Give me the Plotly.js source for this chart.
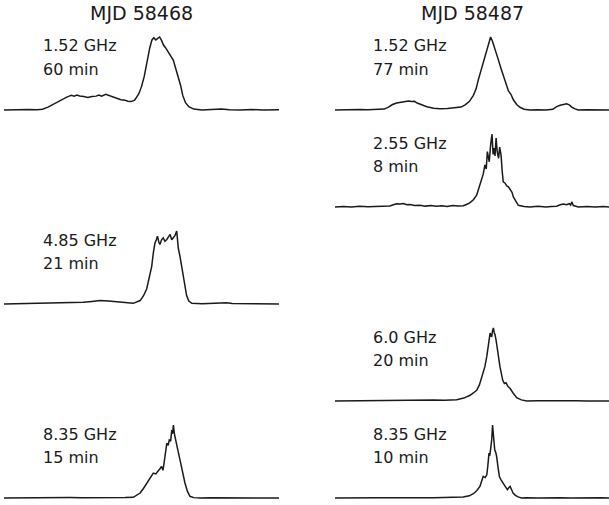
<!DOCTYPE html>
<html><head><meta charset="utf-8">
<script src="https://cdn.plot.ly/plotly-3.0.1.min.js"></script>
<style>html,body{margin:0;padding:0;background:#fff}#chart{width:609px;height:505px}</style>
</head><body><div id="chart"></div>
<script>
// ---- data (normalised pulse profiles, phase 0..1) ----
const epochTitles = ['MJD 58468', 'MJD 58487'];
const freqLabels = ['1.52 GHz', '4.85 GHz', '8.35 GHz', '1.52 GHz', '2.55 GHz', '6.0 GHz', '8.35 GHz'];
const durLabels  = ['60 min', '21 min', '15 min', '77 min', '8 min', '20 min', '10 min'];

// MJD 58468, 1.52 GHz
const phaseL1 = [0.000,0.030,0.060,0.090,0.120,0.140,0.160,0.180,0.200,0.215,0.230,0.245,0.255,0.265,0.275,0.290,0.305,0.320,0.335,0.345,0.355,0.370,0.380,0.395,0.410,0.425,0.440,0.450,0.462,0.475,0.490,0.500,0.510,0.520,0.530,0.538,0.545,0.552,0.558,0.566,0.572,0.580,0.588,0.596,0.604,0.610,0.616,0.622,0.632,0.642,0.650,0.660,0.672,0.690,0.720,0.760,0.790,0.820,0.860,0.900,0.940,1.000];
const fluxL1  = [0.00,0.005,0.000,0.008,0.002,0.010,0.040,0.080,0.122,0.150,0.180,0.200,0.190,0.205,0.192,0.185,0.172,0.185,0.190,0.205,0.190,0.215,0.200,0.175,0.160,0.140,0.135,0.120,0.115,0.135,0.220,0.320,0.460,0.660,0.850,0.960,0.990,0.960,0.975,1.000,0.960,0.890,0.850,0.800,0.760,0.720,0.680,0.600,0.480,0.340,0.200,0.100,0.045,0.012,0.000,0.010,0.015,0.005,0.000,0.008,0.000,0.002];
// MJD 58468, 4.85 GHz
const phaseL3 = [0,0.04,0.08,0.12,0.16,0.20,0.228,0.26,0.288,0.32,0.349,0.38,0.41,0.44,0.47,0.495,0.507,0.519,0.528,0.537,0.543,0.549,0.554,0.558,0.563,0.567,0.573,0.579,0.585,0.592,0.598,0.604,0.610,0.616,0.622,0.628,0.634,0.640,0.646,0.652,0.658,0.664,0.672,0.683,0.72,0.76,0.79,0.81,0.83,0.87,0.91,0.95,1.0];
const fluxL3  = [0,0.004,0,0.006,0.008,0.012,0.014,0.018,0.023,0.035,0.047,0.040,0.028,0.020,0.009,0.047,0.110,0.209,0.360,0.512,0.700,0.837,0.880,0.930,0.850,0.814,0.880,0.907,0.860,0.884,0.920,0.953,0.880,0.907,0.940,1.000,0.760,0.651,0.520,0.372,0.230,0.116,0.040,0.009,0.004,0.010,0.014,0.018,0.008,0.004,0.000,0.006,0.000];
// MJD 58468, 8.35 GHz
const phaseL5 = [0,0.04,0.08,0.12,0.16,0.20,0.24,0.28,0.32,0.36,0.40,0.44,0.47,0.495,0.507,0.519,0.531,0.543,0.552,0.561,0.567,0.573,0.578,0.582,0.587,0.592,0.597,0.601,0.606,0.610,0.613,0.616,0.620,0.625,0.632,0.640,0.649,0.658,0.667,0.676,0.69,0.713,0.75,0.79,0.83,0.87,0.91,0.95,1.0];
const fluxL5  = [0,0.002,0.004,0.000,0.005,0.003,0.006,0.004,0.002,0.005,0.003,0.006,0.009,0.068,0.130,0.205,0.280,0.341,0.330,0.364,0.400,0.432,0.380,0.477,0.600,0.750,0.720,0.795,0.780,0.932,0.880,1.000,0.870,0.795,0.660,0.523,0.360,0.205,0.090,0.023,0.005,0.000,0.004,0.002,0.005,0.000,0.004,0.002,0.000];
// MJD 58487, 1.52 GHz
const phaseR1 = [0,0.03,0.06,0.09,0.12,0.15,0.18,0.195,0.21,0.225,0.24,0.255,0.268,0.28,0.29,0.30,0.315,0.335,0.36,0.383,0.41,0.44,0.46,0.475,0.49,0.505,0.515,0.523,0.532,0.541,0.548,0.556,0.562,0.568,0.574,0.580,0.588,0.596,0.605,0.614,0.624,0.633,0.642,0.651,0.663,0.675,0.69,0.712,0.74,0.77,0.795,0.809,0.822,0.835,0.845,0.855,0.864,0.876,0.888,0.92,0.95,0.98,1.0];
const fluxR1  = [0,0.005,0,0.008,0.002,0.006,0.012,0.040,0.075,0.095,0.105,0.112,0.124,0.115,0.118,0.095,0.070,0.045,0.025,0.018,0.022,0.030,0.040,0.070,0.115,0.200,0.290,0.413,0.530,0.640,0.740,0.850,0.930,1.000,0.950,0.870,0.780,0.690,0.580,0.470,0.360,0.260,0.215,0.140,0.075,0.037,0.010,0.000,0.005,0.000,0.010,0.046,0.065,0.080,0.085,0.070,0.040,0.015,0.000,0.005,0.000,0.004,0.000];
// MJD 58487, 2.55 GHz
const phaseR2 = [0,0.03,0.06,0.09,0.12,0.15,0.18,0.20,0.213,0.225,0.237,0.25,0.262,0.274,0.29,0.31,0.33,0.35,0.37,0.39,0.41,0.43,0.45,0.468,0.48,0.493,0.505,0.517,0.526,0.535,0.541,0.547,0.552,0.556,0.560,0.563,0.568,0.573,0.577,0.580,0.584,0.588,0.592,0.597,0.601,0.606,0.610,0.614,0.620,0.627,0.633,0.640,0.646,0.651,0.660,0.669,0.69,0.712,0.74,0.77,0.79,0.809,0.822,0.833,0.845,0.855,0.86,0.864,0.87,0.888,0.92,0.95,0.98,1.0];
const fluxR2  = [0,0.006,0,0.010,0.003,0.008,0.005,0.015,0.030,0.045,0.040,0.048,0.030,0.035,0.020,0.025,0.012,0.020,0.010,0.018,0.008,0.020,0.012,0.018,0.035,0.060,0.100,0.161,0.270,0.392,0.450,0.576,0.520,0.760,0.640,0.620,0.850,1.000,0.720,0.806,0.700,0.945,0.760,0.668,0.820,0.714,0.500,0.346,0.330,0.290,0.276,0.240,0.200,0.138,0.080,0.023,0.008,0.000,0.010,0.000,0.008,0.010,0.030,0.040,0.030,0.045,0.025,0.070,0.020,0.000,0.006,0.000,0.008,0.000];
// MJD 58487, 6.0 GHz
const phaseR4 = [0,0.04,0.08,0.12,0.16,0.20,0.237,0.28,0.32,0.36,0.40,0.444,0.47,0.493,0.505,0.517,0.527,0.535,0.541,0.547,0.554,0.560,0.566,0.569,0.572,0.575,0.578,0.581,0.584,0.588,0.592,0.597,0.602,0.607,0.612,0.618,0.624,0.631,0.639,0.650,0.663,0.680,0.70,0.74,0.78,0.82,0.846,0.88,0.92,0.96,1.0];
const fluxR4  = [0,0.002,0.004,0.006,0.008,0.008,0.009,0.012,0.015,0.012,0.010,0.018,0.040,0.078,0.110,0.147,0.220,0.332,0.400,0.470,0.610,0.747,0.931,0.890,0.885,0.960,1.000,0.940,0.908,0.830,0.747,0.600,0.470,0.370,0.286,0.240,0.250,0.200,0.170,0.110,0.046,0.015,0.000,0.004,0.006,0.008,0.009,0.004,0.000,0.003,0.000];
// MJD 58487, 8.35 GHz
const phaseR5 = [0,0.04,0.08,0.12,0.16,0.20,0.24,0.28,0.32,0.36,0.40,0.44,0.468,0.49,0.505,0.517,0.529,0.535,0.541,0.548,0.554,0.558,0.562,0.565,0.568,0.572,0.575,0.579,0.583,0.587,0.590,0.595,0.600,0.607,0.614,0.622,0.629,0.634,0.639,0.645,0.650,0.657,0.668,0.681,0.70,0.74,0.78,0.82,0.86,0.90,0.94,0.97,1.0];
const fluxR5  = [0,0.003,0.000,0.005,0.002,0.004,0.000,0.005,0.002,0.004,0.006,0.008,0.014,0.030,0.059,0.100,0.159,0.230,0.295,0.280,0.318,0.450,0.614,0.580,0.659,0.800,1.000,0.760,0.659,0.620,0.568,0.420,0.295,0.240,0.205,0.160,0.114,0.140,0.159,0.110,0.068,0.040,0.015,0.000,0.004,0.000,0.005,0.003,0.000,0.004,0.002,0.005,0.000];

const panelPhase = [phaseL1, phaseL3, phaseL5, phaseR1, phaseR2, phaseR4, phaseR5];
const panelFlux  = [fluxL1, fluxL3, fluxL5, fluxR1, fluxR2, fluxR4, fluxR5];
const panelCol = [0, 0, 0, 1, 1, 1, 1];
const panelRow = [0, 2, 4, 0, 1, 3, 4];

// ---- layout geometry (pixels) ----
const W = 609, H = 505;
const colPx = [[4, 279], [335, 609]];
const labelX = [43, 373];
const rowBase0 = 110, rowStep = 97, amp = 73, pad = 0.05;
const FONT = 'DejaVu Sans, sans-serif';
const INK = '#1a1a1a';

const traces = [];
const layout = {
  width: W, height: H,
  margin: {l: 0, r: 0, t: 0, b: 0, pad: 0},
  paper_bgcolor: '#fff', plot_bgcolor: 'rgba(0,0,0,0)',
  showlegend: false,
  font: {family: FONT, color: INK},
  annotations: []
};

for (let i = 0; i < panelPhase.length; i++) {
  const n = i + 1;
  const sfx = (n === 1 ? '' : String(n));
  const c = panelCol[i], r = panelRow[i];
  const base = rowBase0 + rowStep * r;
  const botPx = base + pad * amp, topPx = base - amp - pad * amp;
  const m = Math.min(panelPhase[i].length, panelFlux[i].length);
  traces.push({
    type: 'scatter', mode: 'lines',
    x: panelPhase[i].slice(0, m), y: panelFlux[i].slice(0, m),
    xaxis: 'x' + sfx, yaxis: 'y' + sfx,
    line: {color: INK, width: 1.5},
    hoverinfo: 'skip'
  });
  layout['xaxis' + sfx] = {domain: [colPx[c][0] / W, colPx[c][1] / W], range: [0, 1],
    visible: false, fixedrange: true, anchor: 'y' + sfx};
  layout['yaxis' + sfx] = {domain: [1 - botPx / H, 1 - topPx / H], range: [-pad, 1 + pad],
    visible: false, fixedrange: true, anchor: 'x' + sfx};
  layout.annotations.push({
    xref: 'paper', yref: 'paper', x: labelX[c] / W, y: 1 - (46 + rowStep * r) / H,
    xanchor: 'left', yanchor: 'middle', showarrow: false, borderpad: 0, borderwidth: 0,
    text: freqLabels[i], font: {family: FONT, size: 16, color: INK}
  });
  layout.annotations.push({
    xref: 'paper', yref: 'paper', x: labelX[c] / W, y: 1 - (69.5 + rowStep * r) / H,
    xanchor: 'left', yanchor: 'middle', showarrow: false, borderpad: 0, borderwidth: 0,
    text: durLabels[i], font: {family: FONT, size: 16, color: INK}
  });
}
for (let c = 0; c < 2; c++) {
  layout.annotations.push({
    xref: 'paper', yref: 'paper', x: (colPx[c][0] + colPx[c][1]) / 2 / W, y: 1 - 13 / H,
    xanchor: 'center', yanchor: 'middle', showarrow: false, borderpad: 0, borderwidth: 0,
    text: epochTitles[c], font: {family: FONT, size: 19, color: INK}
  });
}

Plotly.newPlot('chart', traces, layout, {displayModeBar: false, staticPlot: true});
</script>
</body></html>
